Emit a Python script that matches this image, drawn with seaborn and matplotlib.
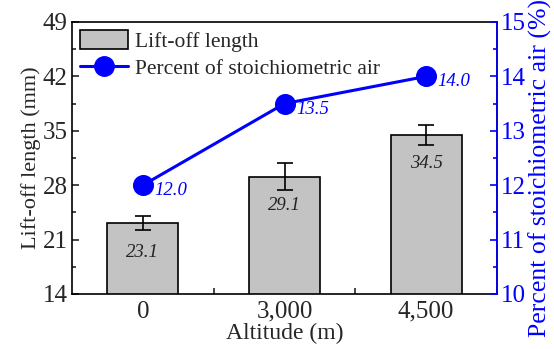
import matplotlib
matplotlib.use("Agg")
import matplotlib.pyplot as plt
import seaborn as sns
import pandas as pd
from matplotlib.ticker import MultipleLocator, FixedLocator
from matplotlib.patches import Patch
from matplotlib.lines import Line2D

altitudes = ["0", "3,000", "4,500"]
liftoff = [23.1, 29.1, 34.5]
liftoff_err = [0.9, 1.7, 1.3]
stoich_air = [12.0, 13.5, 14.0]

sns.set_theme(style="ticks")
plt.rcParams['font.family'] = ['Liberation Serif', 'DejaVu Serif']
plt.rcParams['mathtext.fontset'] = 'stix'

df = pd.DataFrame({"Altitude": altitudes, "Lift": liftoff, "Air": stoich_air})

fig = plt.figure(figsize=(5.54, 3.49), dpi=100)
ax = fig.add_axes([72/554, 1-294/349, (497-72)/554, (294-22)/349])

sns.barplot(data=df, x="Altitude", y="Lift", ax=ax, color="#c3c3c3",
            edgecolor="black", linewidth=1.2, width=0.5, saturation=1, errorbar=None)
xs = list(range(len(altitudes)))
ax.errorbar(xs, liftoff, yerr=liftoff_err, fmt="none", ecolor="black",
            elinewidth=1.2, capsize=5.5, capthick=1.2, zorder=5)
for x, v in zip(xs, liftoff):
    ax.text(x, v - 3.7, f"{v:.1f}", ha="center", va="center", fontsize=13.5,
            style="italic", color="#222222")

ax.set_ylim(14, 49)
ax.yaxis.set_major_locator(MultipleLocator(7))
ax.yaxis.set_minor_locator(MultipleLocator(3.5))
ax.set_xlim(-0.5, 2.5)
ax.set_xlabel("Altitude (m)", fontsize=17, labelpad=0)
ax.set_ylabel("Lift-off length (mm)", fontsize=16, labelpad=1)
ax.tick_params(axis="both", which="both", direction="in", labelsize=18, width=1.2)
ax.tick_params(axis="y", which="major", length=5, pad=3)
ax.tick_params(axis="y", which="minor", length=3)
ax.tick_params(axis="x", which="major", length=0, pad=5)
ax.xaxis.set_minor_locator(FixedLocator([0.5, 1.5]))
ax.tick_params(axis="x", which="minor", length=4)
for s in ax.spines.values():
    s.set_linewidth(1.2)
    s.set_color("black")

ax2 = ax.twinx()
sns.pointplot(data=df, x="Altitude", y="Air", ax=ax2, color="blue",
              markers="o", markersize=13.5, linewidth=2.2)
ax2.set_ylim(10, 15)
ax2.set_xlim(-0.5, 2.5)
ax2.yaxis.set_major_locator(MultipleLocator(1))
ax2.yaxis.set_minor_locator(MultipleLocator(0.5))
ax2.set_ylabel("Percent of stoichiometric air (%)", fontsize=18.5, color="blue", labelpad=2)
ax2.yaxis.label.set_y(0.465)
ax2.tick_params(axis="y", which="both", direction="in", colors="blue", labelsize=18, width=1.2)
ax2.tick_params(axis="y", which="major", length=5, pad=3)
ax2.tick_params(axis="y", which="minor", length=3)
ax2.spines["right"].set_color("blue")
ax2.spines["right"].set_linewidth(1.2)
for side in ["left", "top", "bottom"]:
    ax2.spines[side].set_visible(False)
for x, v in zip(xs, stoich_air):
    ax2.text(x + 0.08, v - 0.1, f"{v:.1f}", ha="left", va="center", fontsize=13.5,
             style="italic", color="blue")

handles = [Patch(facecolor="#c3c3c3", edgecolor="black", linewidth=1.2),
           Line2D([0], [0], color="blue", lw=2.2, marker="o", markersize=14)]
ax.legend(handles, ["Lift-off length", "Percent of stoichiometric air"],
          loc="upper left", frameon=False, fontsize=15.5, handlelength=2.25,
          handleheight=1.0, borderaxespad=0.2, labelspacing=0.25,
          handletextpad=0.3, bbox_to_anchor=(-0.012, 1.018))

fig.savefig("out.png", dpi=100)
